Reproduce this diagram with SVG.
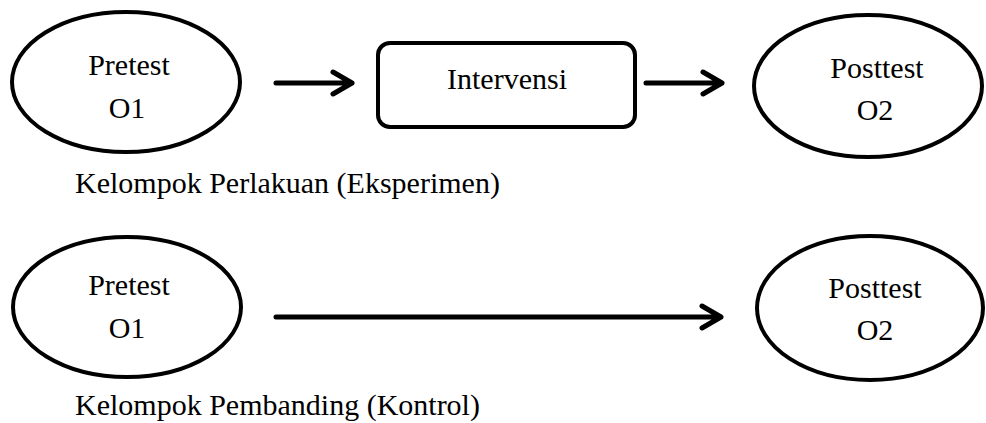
<svg xmlns="http://www.w3.org/2000/svg" width="986" height="423" viewBox="0 0 986 423">
<style>
.shape{fill:#fff;stroke:#000;stroke-width:4}
.t{font-family:'Liberation Serif','Times New Roman',Times,serif;font-size:30px;fill:#000}
.c{text-anchor:middle}
.conn{stroke:#000;stroke-width:5;fill:none;stroke-linecap:round;stroke-linejoin:round}
</style>
<rect width="986" height="423" fill="#fff"/>
<g id="pretest1">
<ellipse class="shape" cx="126" cy="82" rx="114" ry="70"/>
<text class="t c" x="129" y="75">Pretest</text>
<text class="t c" x="127" y="118">O1</text>
</g>
<g id="intervensi">
<rect class="shape" x="378" y="43" width="257" height="84" rx="12"/>
<text class="t c" x="507" y="89">Intervensi</text>
</g>
<g id="posttest1">
<ellipse class="shape" cx="868" cy="86" rx="114" ry="71"/>
<text class="t c" x="877" y="78">Posttest</text>
<text class="t c" x="875" y="120">O2</text>
</g>
<g id="pretest2">
<ellipse class="shape" cx="127" cy="307" rx="114" ry="70"/>
<text class="t c" x="129" y="295">Pretest</text>
<text class="t c" x="127" y="338">O1</text>
</g>
<g id="posttest2">
<ellipse class="shape" cx="870" cy="308" rx="113" ry="72"/>
<text class="t c" x="875" y="298">Posttest</text>
<text class="t c" x="875" y="340">O2</text>
</g>
<g id="captions">
<text class="t" x="75" y="193">Kelompok Perlakuan (Eksperimen)</text>
<text class="t" x="75" y="415">Kelompok Pembanding (Kontrol)</text>
</g>
<g id="connectors">
<path class="conn" d="M276 83 H352 M333 72 L352 83 L333 94"/>
<path class="conn" d="M646 83 H722 M703 72 L722 83 L703 94"/>
<path class="conn" d="M276 317 H721 M702 306 L721 317 L702 328"/>
</g>
</svg>
